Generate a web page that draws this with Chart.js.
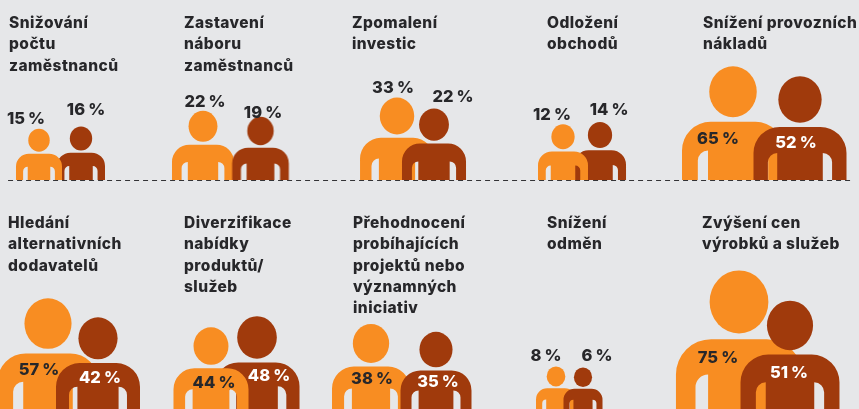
<!DOCTYPE html>
<html lang="cs">
<head>
<meta charset="utf-8">
<style>html,body{margin:0;padding:0;background:#E6E7E9;overflow:hidden}canvas{display:block}</style>
<script src="https://cdn.jsdelivr.net/npm/chart.js@4"></script>
</head>
<body>
<canvas id="c" width="859" height="409"></canvas>
<script>
// ---- data ----
const categories = [
  ['Snižování','počtu','zaměstnanců'],
  ['Zastavení','náboru','zaměstnanců'],
  ['Zpomalení','investic'],
  ['Odložení','obchodů'],
  ['Snížení provozních','nákladů'],
  ['Hledání','alternativních','dodavatelů'],
  ['Diverzifikace','nabídky','produktů/','služeb'],
  ['Přehodnocení','probíhajících','projektů nebo','významných','iniciativ'],
  ['Snížení','odměn'],
  ['Zvýšení cen','výrobků a služeb']
];
const orangeValues = [15,22,33,12,65,57,44,38,8,75];
const brownValues  = [16,19,22,14,52,42,48,35,6,51];

// ---- layout (not data) ----
const COLS = 5, COL_PX = 859 / COLS, ROW_PX = 231, ROW0_PX = 180.5;
const ORANGE = '#F88D22', BROWN = '#A03A0C', INK = '#27272A', BG = '#E6E7E9';
const orangeOffset = [-46.9,-54.7,-32.5,-38.3,-40.1,-37.9,-46.7,-58.5,-45.3,-34.1];
const brownOffset  = [-4.9,2.8,4.5,-1.3,26.9,12.1,-0.7,6.5,-18.3,16.9];
const orangeScale = [.914,1.017,.99,1.11,.973,1.03,.87,.973,1.087,1.12];
const brownScale  = [.923,1.0,1.05,1.07,.992,.997,.944,.923,1.225,1.066];
const orangeLabel = [[-59.9,-57],[-52.7,-74],[-36.5,-88],[-49.3,-61],[-55.1,-37],[-46.9,-37],[-43.7,-24],[-57.5,-28],[-55.3,-51],[-55.1,-49]];
const brownLabel  = [[0.1,-66],[5.3,-63],[23.5,-79],[7.7,-66],[22.9,-33],[14.1,-29],[11.3,-31],[8.5,-25],[-4.3,-51],[15.9,-34]];
const brownLabelColor = [INK,INK,INK,INK,'#fff','#fff','#fff','#fff',INK,'#fff'];
const titleX = [9,184,352,547,703,8,184,353,547,702];
const titleY = [28,228];
const TITLE_LH = 21.3;
const TITLE_FONT = '800 15.5px Inter';
const LABEL_FONT = '800 16.5px Inter';

const iconCache = {};
function personIcon(w, color) {
  const key = w.toFixed(2) + color;
  if (iconCache[key]) return iconCache[key];
  const H = 1.115 * w, n = Math.ceil(H) + 1;
  const c = document.createElement('canvas');
  c.width = 2 * Math.ceil(w / 2) + 2;
  c.height = 2 * n + 1;
  const g = c.getContext('2d');
  const cx = c.width / 2, by = n, l = cx - w / 2, r = cx + w / 2;
  const top = by - 0.57 * w, R = 0.28 * w, arm = 0.155 * w, nw = 0.10 * w, nh = 0.29 * w;
  g.fillStyle = color;
  g.beginPath();
  g.ellipse(cx, by - H + 0.25 * w, 0.233 * w, 0.25 * w, 0, 0, Math.PI * 2);
  g.fill();
  g.beginPath();
  g.moveTo(l, by);
  g.lineTo(l, top + R);
  g.arcTo(l, top, l + R, top, R);
  g.lineTo(r - R, top);
  g.arcTo(r, top, r, top + R, R);
  g.lineTo(r, by);
  g.lineTo(r - arm, by);
  g.lineTo(r - arm, by - nh + nw);
  g.arcTo(r - arm, by - nh, r - arm - nw, by - nh, nw);
  g.lineTo(r - arm - nw, by);
  g.lineTo(l + arm + nw, by);
  g.lineTo(l + arm + nw, by - nh);
  g.arcTo(l + arm, by - nh, l + arm, by - nh + nw, nw);
  g.lineTo(l + arm, by);
  g.closePath();
  g.fill();
  iconCache[key] = c;
  return c;
}

function figure(values, offsets, scales, i) {
  return {
    x: (i % COLS) + offsets[i] / COL_PX,
    y: Math.floor(i / COLS),
    w: 13 * Math.sqrt(values[i]) * scales[i]
  };
}
const orangeFigures = orangeValues.map((v, i) => figure(orangeValues, orangeOffset, orangeScale, i));
const brownFigures  = brownValues.map((v, i) => figure(brownValues, brownOffset, brownScale, i));
const behind = orangeFigures.filter((f, i) => orangeValues[i] >= brownValues[i]);
const front  = orangeFigures.filter((f, i) => orangeValues[i] < brownValues[i]);

function peopleDataset(label, data, color) {
  return {
    label, data, showLine: false, clip: false,
    backgroundColor: color, borderColor: color,
    pointStyle: ctx => ctx.raw ? personIcon(ctx.raw.w, color) : false,
    pointRadius: ctx => ctx.raw ? ctx.raw.w / 2 : 0
  };
}

const textPlugin = {
  id: 'texts',
  afterDatasetsDraw(chart) {
    const g = chart.ctx, xs = chart.scales.x, ys = chart.scales.y;
    g.save();
    g.textBaseline = 'alphabetic';
    g.textAlign = 'left';
    g.fillStyle = INK;
    g.font = TITLE_FONT;
    g.letterSpacing = '0.45px';
    categories.forEach((lines, i) => {
      lines.forEach((t, k) => g.fillText(t, titleX[i], titleY[Math.floor(i / COLS)] + k * TITLE_LH));
    });
    g.textAlign = 'center';
    g.font = LABEL_FONT;
    g.letterSpacing = '0px';
    g.wordSpacing = '-0.5px';
    const put = (v, off, i, col) => {
      g.fillStyle = col;
      g.fillText(v + ' %', xs.getPixelForValue(i % COLS) + off[0], ys.getPixelForValue(Math.floor(i / COLS)) + off[1]);
    };
    orangeValues.forEach((v, i) => put(v, orangeLabel[i], i, INK));
    brownValues.forEach((v, i) => put(v, brownLabel[i], i, brownLabelColor[i]));
    g.restore();
  }
};

// Chart.js paints the first dataset last, so the topmost layer comes first here.
new Chart(document.getElementById('c'), {
  type: 'scatter',
  data: {
    datasets: [
      {
        label: 'Základna', showLine: true, clip: false, pointRadius: 0,
        data: [{x: -0.453, y: 0}, {x: 4.459, y: 0}],
        borderColor: '#333336', borderWidth: 1, borderDash: [5, 4]
      },
      peopleDataset('Menší oranžová', front, ORANGE),
      peopleDataset('Hnědá', brownFigures, BROWN),
      peopleDataset('Větší oranžová', behind, ORANGE)
    ]
  },
  options: {
    responsive: false,
    animation: false,
    events: [],
    layout: {padding: 0, autoPadding: false},
    plugins: {legend: {display: false}, tooltip: {enabled: false}},
    scales: {
      x: {type: 'linear', display: false, min: -0.5, max: COLS - 0.5},
      y: {type: 'linear', display: false, reverse: true, min: -ROW0_PX / ROW_PX, max: (409 - ROW0_PX) / ROW_PX}
    }
  },
  plugins: [textPlugin]
});
</script>
</body>
</html>
